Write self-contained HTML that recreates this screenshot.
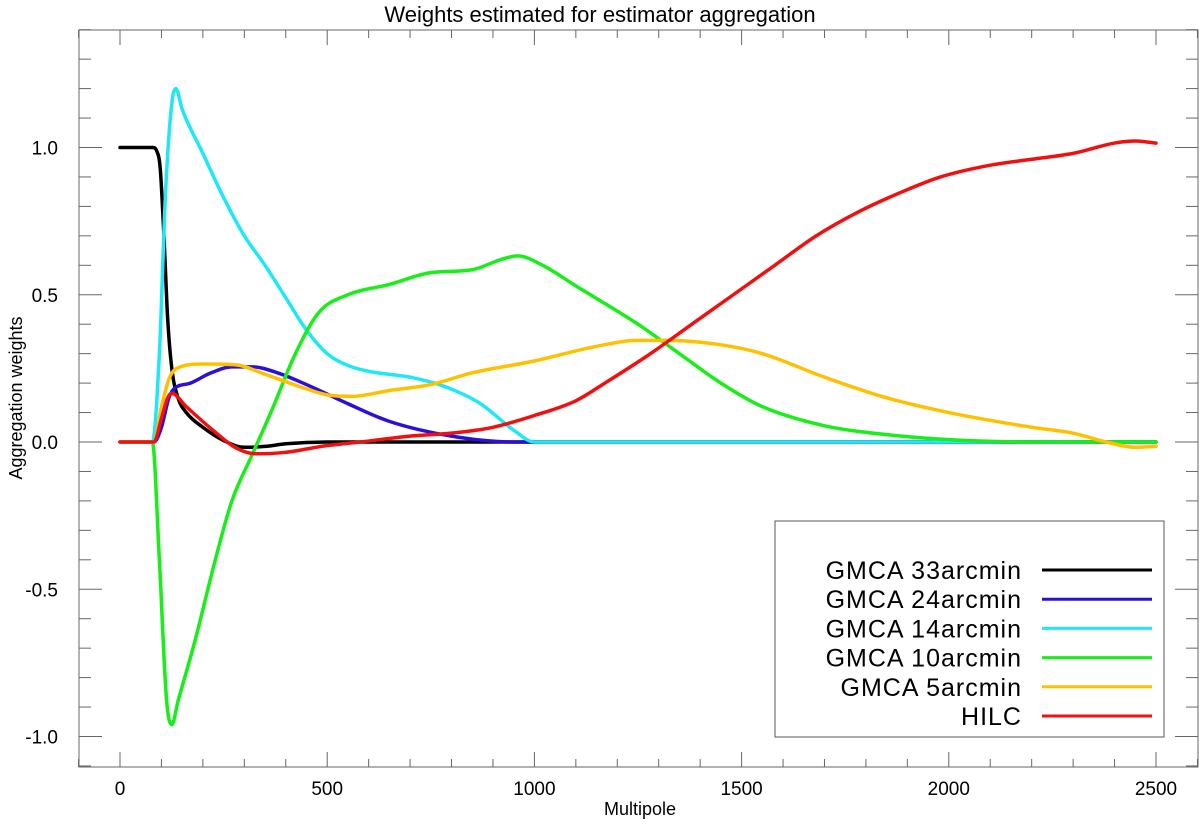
<!DOCTYPE html>
<html><head><meta charset="utf-8"><style>
html,body{margin:0;padding:0;background:#fff}
svg text{font-family:"Liberation Sans",sans-serif}
</style></head><body>
<svg id="chart" width="1200" height="821" viewBox="0 0 1200 821" xmlns="http://www.w3.org/2000/svg">
<text x="600" y="22" text-anchor="middle" font-size="22">Weights estimated for estimator aggregation</text>
<text x="640" y="815" text-anchor="middle" font-size="18">Multipole</text>
<text x="22" y="398" text-anchor="middle" font-size="18" transform="rotate(-90 22 398)">Aggregation weights</text>
<g id="axes"></g>
<g id="series"></g>
<g id="legend">
<rect x="775" y="521" width="389" height="216" fill="#fff" stroke="#555" stroke-width="1"/>
</g>
</svg>
<script>
const xTicks=[0,500,1000,1500,2000,2500];
const yTicks=[-1.0,-0.5,0.0,0.5,1.0];
const yTickLabels=["-1.0","-0.5","0.0","0.5","1.0"];
const seriesNames=["GMCA 33arcmin","GMCA 24arcmin","GMCA 14arcmin","GMCA 10arcmin","GMCA 5arcmin","HILC"];
const seriesColors=["#000000","#2a10d8","#1ee8f5","#18ee18","#ffc000","#f01010"];
const black=[[0,1],[80,1],[88,0.99],[97,0.93],[106,0.7],[115,0.42],[125,0.25],[140,0.15],[160,0.1],[200,0.05],[250,0.005],[300,-0.018],[350,-0.015],[400,-0.006],[500,0],[2500,0]];
const blue=[[0,0],[82,0],[100,0.05],[118,0.15],[130,0.18],[170,0.2],[220,0.235],[270,0.255],[320,0.255],[380,0.235],[450,0.195],[550,0.13],[650,0.07],[800,0.02],[950,0],[2500,0]];
const cyan=[[0,0],[78,0],[95,0.3],[110,0.85],[125,1.15],[135,1.2],[150,1.13],[200,0.98],[250,0.83],[300,0.7],[350,0.6],[400,0.49],[450,0.38],[500,0.3],[550,0.26],[600,0.24],[700,0.22],[780,0.19],[870,0.13],[950,0.04],[1000,0],[2500,0]];
const green=[[0,0],[78,0],[95,-0.4],[112,-0.87],[125,-0.96],[140,-0.88],[180,-0.68],[230,-0.4],[270,-0.2],[320,-0.04],[370,0.12],[420,0.29],[480,0.44],[550,0.5],[650,0.535],[750,0.575],[850,0.585],[920,0.62],[960,0.632],[1020,0.6],[1100,0.53],[1250,0.4],[1350,0.3],[1450,0.2],[1550,0.12],[1700,0.055],[1850,0.025],[2000,0.008],[2200,0],[2500,0]];
const yellow=[[0,0],[82,0],[100,0.12],[120,0.22],[145,0.255],[200,0.265],[280,0.262],[350,0.23],[430,0.19],[500,0.16],[560,0.155],[650,0.175],[750,0.195],[850,0.235],[1000,0.275],[1150,0.325],[1250,0.345],[1320,0.345],[1450,0.33],[1550,0.3],[1700,0.22],[1850,0.15],[2000,0.1],[2200,0.05],[2300,0.03],[2380,0],[2450,-0.018],[2500,-0.015]];
const red=[[0,0],[82,0],[100,0.08],[115,0.15],[125,0.165],[160,0.12],[220,0.045],[280,-0.02],[330,-0.04],[400,-0.035],[500,-0.012],[580,0],[700,0.02],[800,0.03],[900,0.05],[1000,0.09],[1100,0.14],[1170,0.2],[1280,0.3],[1380,0.4],[1480,0.5],[1580,0.6],[1680,0.7],[1780,0.78],[1880,0.845],[1980,0.9],[2100,0.94],[2200,0.96],[2300,0.98],[2400,1.015],[2450,1.022],[2500,1.015]];
const allSeries=[black,blue,cyan,green,yellow,red];

const L=79,R=1198,T=30,B=767;
const sx=v=>120+(v-0)*(1156-120)/2500;
const sy=v=>442-v*294.5;
const NS="http://www.w3.org/2000/svg";
function mk(tag,attrs,parent){const e=document.createElementNS(NS,tag);for(const k in attrs)e.setAttribute(k,attrs[k]);parent.appendChild(e);return e;}
const axes=document.getElementById('axes');
const frame=mk('rect',{x:L,y:T,width:R-L,height:B-T,fill:'none',stroke:'#666','stroke-width':1},axes);


for(let v=-100;v<=2600;v+=100){
  const major=v%500===0;const len=major?15:8;const x=sx(v);
  const t1=mk('line',{x1:x,x2:x,y1:B,y2:B-len,stroke:'#666'},axes);
  
  
  const t2=mk('line',{x1:x,x2:x,y1:T,y2:T+len,stroke:'#666'},axes);
  
  
}
xTicks.forEach(v=>{const t=mk('text',{x:sx(v),y:795,'text-anchor':'middle','font-size':19},axes);t.textContent=String(v);
  
  });
for(let i=-11;i<=14;i++){
  const v=i/10;const major=i%5===0;const len=major?23:12;const y=sy(v);
  const t1=mk('line',{x1:L,x2:L+len,y1:y,y2:y,stroke:'#666'},axes);
  
  
  const t2=mk('line',{x1:R,x2:R-len,y1:y,y2:y,stroke:'#666'},axes);
  
  
}
yTicks.forEach((v,i)=>{const t=mk('text',{x:58,y:sy(v)+7,'text-anchor':'end','font-size':19},axes);t.textContent=yTickLabels[i];
  
  });
// monotone cubic (Fritsch-Carlson) in x
function pathFor(pts){
  const p=pts.map(d=>[sx(d[0]),sy(d[1])]);
  const n=p.length;const dl=[],m=[];
  for(let i=0;i<n-1;i++)dl.push((p[i+1][1]-p[i][1])/(p[i+1][0]-p[i][0]));
  m[0]=dl[0];m[n-1]=dl[n-2];
  for(let i=1;i<n-1;i++){m[i]=(dl[i-1]*dl[i]<=0)?0:(dl[i-1]+dl[i])/2;}
  for(let i=0;i<n-1;i++){
    if(dl[i]===0){m[i]=0;m[i+1]=0;continue;}
    const a=m[i]/dl[i],b=m[i+1]/dl[i],s=a*a+b*b;
    if(s>9){const t=3/Math.sqrt(s);m[i]=t*a*dl[i];m[i+1]=t*b*dl[i];}
  }
  let s='M'+p[0][0]+','+p[0][1];
  for(let i=0;i<n-1;i++){
    const h=(p[i+1][0]-p[i][0])/3;
    s+=' C'+(p[i][0]+h)+','+(p[i][1]+m[i]*h)+' '+(p[i+1][0]-h)+','+(p[i+1][1]-m[i+1]*h)+' '+p[i+1][0]+','+p[i+1][1];
  }
  return s;
}
const sg=document.getElementById('series');
[0,1,2,3,4,5].forEach(i=>{
  const pth=mk('path',{d:pathFor(allSeries[i]),fill:'none',stroke:seriesColors[i],'stroke-width':3.5,'stroke-linejoin':'round','stroke-linecap':'round'},sg);
  
  
});
const lg=document.getElementById('legend');
seriesNames.forEach((n,i)=>{
  const y=570+i*29.2;
  const t=mk('text',{x:1022,y:y+9,'text-anchor':'end','font-size':25,'letter-spacing':'1'},lg);t.textContent=n;
  
  
  const l=mk('line',{x1:1042,x2:1152,y1:y,y2:y,stroke:seriesColors[i],'stroke-width':3},lg);
  
  
});
</script>
</body></html>
